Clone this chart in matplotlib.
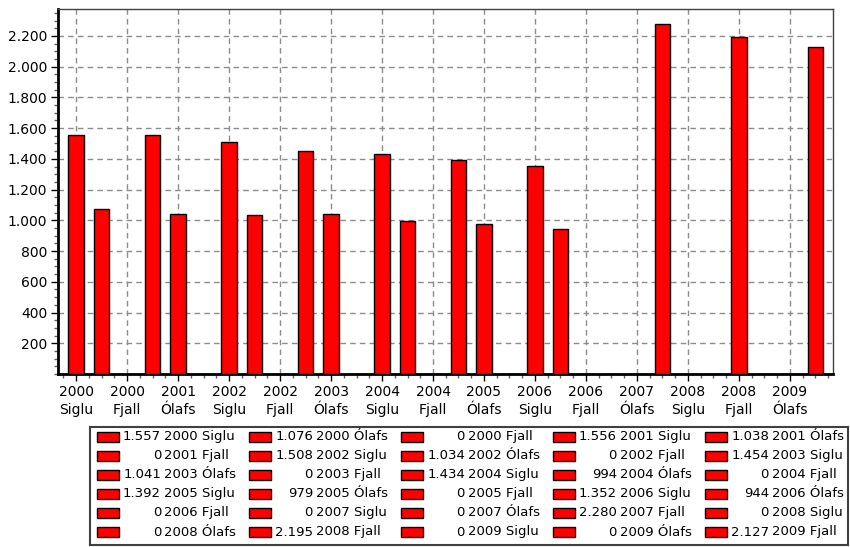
import numpy as np
import matplotlib
matplotlib.use("Agg")
from matplotlib import pyplot as plt
from matplotlib.patches import Rectangle
from matplotlib.ticker import MultipleLocator, FixedLocator

# data (order as in the legend)
years = ['2000', '2000', '2000', '2001', '2001', '2001', '2002', '2002', '2002',
         '2003', '2003', '2003', '2004', '2004', '2004', '2005', '2005', '2005',
         '2006', '2006', '2006', '2007', '2007', '2007', '2008', '2008', '2008',
         '2009', '2009', '2009']
towns = ['Siglu', 'Ólafs', 'Fjall'] * 10
values = [1557, 1076, 0, 1556, 1038, 0, 1508, 1034, 0, 1454, 1041, 0,
          1434, 994, 0, 1392, 979, 0, 1352, 944, 0, 0, 0, 2280,
          0, 0, 2195, 0, 0, 2127]
yticks = list(range(200, 2201, 200))


def fmt(v):
    return f"{v:,}".replace(',', '.')


plt.rcParams['font.family'] = ['DejaVu Sans']
plt.rcParams['font.size'] = 10

W, H = 850, 547
fig = plt.figure(figsize=(W / 100, H / 100), dpi=100)
ax = fig.add_axes([58.5 / W, 1 - 374 / H, (833 - 58.5) / W, (374 - 9) / H])

x = np.arange(len(values))
ax.bar(x, values, width=0.62, color='#ff0000', edgecolor='black', linewidth=1, zorder=3)

ax.set_xlim(-0.69, 29.69)
ax.set_ylim(0, 2375)

major = list(range(0, 30, 2))
ax.xaxis.set_major_locator(FixedLocator(major))
ax.set_xticklabels([years[i] + '\n' + towns[i] for i in major], linespacing=1.35)
ax.xaxis.set_minor_locator(MultipleLocator(0.5))
ax.set_yticks(yticks)
ax.set_yticklabels([fmt(v) for v in yticks])
ax.yaxis.set_minor_locator(MultipleLocator(50))

ax.tick_params(which='major', direction='out', length=5, width=1, pad=3, colors='black')
ax.tick_params(which='minor', direction='out', length=3, width=1, color='#606060')

ax.grid(True, which='major', color='#8c8c8c', linestyle=(0, (4, 3)), linewidth=1, zorder=0)
ax.set_axisbelow(True)

for s in ['left', 'bottom']:
    ax.spines[s].set_linewidth(2)
    ax.spines[s].set_color('black')
for s in ['top', 'right']:
    ax.spines[s].set_linewidth(1)
    ax.spines[s].set_color('#404040')

# legend box, 5 columns x 6 rows
lax = fig.add_axes([90 / W, 1 - 545 / H, (848 - 90) / W, (545 - 427) / H])
lax.set_xlim(90, 848)
lax.set_ylim(545, 427)
lax.set_xticks([])
lax.set_yticks([])
for s in lax.spines.values():
    s.set_color('#404040')
    s.set_linewidth(1.5)

for i, v in enumerate(values):
    r, c = divmod(i, 5)
    x0 = 97 + 152 * c
    yc = 436.5 + 19.1 * r
    lax.add_patch(Rectangle((x0, yc - 5), 22, 10, facecolor='#ff0000',
                            edgecolor='black', linewidth=1))
    lax.text(x0 + 64, yc, fmt(v), ha='right', va='center', fontsize=9.5)
    lax.text(x0 + 67, yc, years[i] + ' ' + towns[i], ha='left', va='center', fontsize=9.5)

fig.savefig('out.png', dpi=100)
